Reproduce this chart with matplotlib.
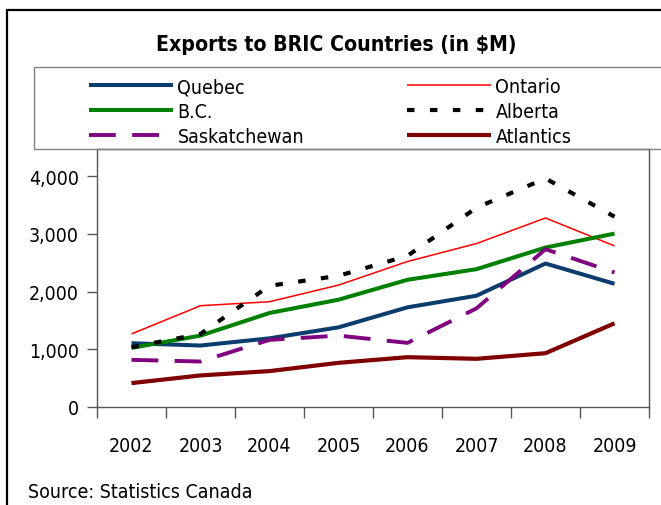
import matplotlib.pyplot as plt
from matplotlib.patches import Rectangle
from matplotlib.ticker import FuncFormatter, FixedLocator

years = ["2002", "2003", "2004", "2005", "2006", "2007", "2008", "2009"]

quebec = [1105, 1065, 1190, 1380, 1727, 1928, 2486, 2135]
ontario = [1266, 1755, 1824, 2112, 2521, 2832, 3275, 2791]
bc = [1024, 1237, 1629, 1859, 2204, 2388, 2763, 3004]
alberta = [1036, 1266, 2100, 2273, 2619, 3453, 3960, 3298]
saskatchewan = [817, 788, 1163, 1237, 1111, 1709, 2734, 2331]
atlantics = [414, 547, 622, 765, 863, 835, 932, 1450]

plt.rcParams["font.family"] = ["DejaVu Sans"]
plt.rcParams["font.stretch"] = "condensed"

W, H = 661, 506
fig = plt.figure(figsize=(W / 100, H / 100), dpi=100)


def fx(px):
    return px / W


def fy(py):
    return 1 - py / H


# outer chart frame and legend box, both running off the right/bottom edge
fig.patches.append(Rectangle((fx(7), fy(560)), fx(700), fy(11) - fy(560),
                             transform=fig.transFigure, fill=False,
                             edgecolor="black", linewidth=1.6))
fig.patches.append(Rectangle((fx(34), fy(150)), fx(700), fy(68) - fy(150),
                             transform=fig.transFigure, fill=False,
                             edgecolor="#808080", linewidth=1.0))

ax = fig.add_axes([fx(97), fy(408), fx(649) - fx(97), fy(150) - fy(408)])

x = list(range(len(years)))
series = [
    ("Quebec", quebec, dict(color="#0b3c6e", lw=2.9)),
    ("Ontario", ontario, dict(color="#ff0000", lw=1.1)),
    ("B.C.", bc, dict(color="#008000", lw=2.9)),
    ("Alberta", alberta, dict(color="black", lw=3.0, dashes=(1.8, 3.7))),
    ("Saskatchewan", saskatchewan, dict(color="#800080", lw=2.8, dashes=(6.9, 4.2))),
    ("Atlantics", atlantics, dict(color="#800000", lw=3.0)),
]
handles = {}
for name, vals, style in series:
    (ln,) = ax.plot(x, vals, solid_capstyle="butt", dash_capstyle="butt", **style)
    handles[name] = ln

ax.set_xlim(-0.5, 7.5)
ax.set_ylim(0, 4470)
ax.yaxis.set_major_locator(FixedLocator([0, 1000, 2000, 3000, 4000]))
ax.yaxis.set_major_formatter(FuncFormatter(lambda v, p: f"{int(v):,}"))
ax.set_xticks(x)
ax.set_xticklabels(years)
ax.set_xticks([i - 0.5 for i in range(len(years) + 1)], minor=True)
ax.tick_params(axis="x", which="major", length=0, pad=21, labelsize=14)
ax.tick_params(axis="x", which="minor", length=8, width=1, color="#555555")
ax.tick_params(axis="y", length=7, width=1, color="#555555", pad=6, labelsize=14)
for s in ax.spines.values():
    s.set_color("#555555")
    s.set_linewidth(1.0)

fig.text(fx(336), fy(45), "Exports to BRIC Countries (in $M)", ha="center",
         va="center", fontsize=15.2, fontweight="bold")
fig.text(fx(28), fy(493), "Source: Statistics Canada", ha="left", va="center",
         fontsize=14)

# two legend columns placed independently
leg_kw = dict(frameon=False, fontsize=14, handlelength=4.3, handletextpad=0.25,
              labelspacing=0.3, borderpad=0, borderaxespad=0, loc="upper left")
fig.legend([handles[n] for n in ["Quebec", "B.C.", "Saskatchewan"]],
           ["Quebec", "B.C.", "Saskatchewan"],
           bbox_to_anchor=(fx(89), fy(78)), **leg_kw)
fig.legend([handles[n] for n in ["Ontario", "Alberta", "Atlantics"]],
           ["Ontario", "Alberta", "Atlantics"],
           bbox_to_anchor=(fx(407), fy(78)), **leg_kw)

fig.savefig("out.png", dpi=100)
